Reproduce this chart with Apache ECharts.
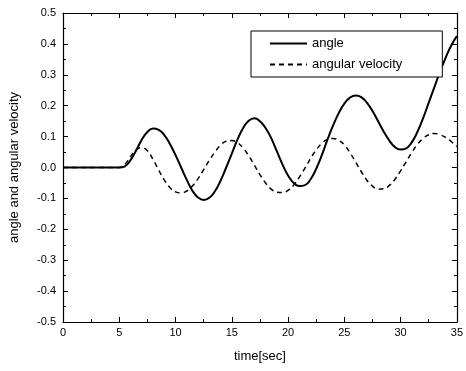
<!DOCTYPE html>
<html>
<head>
<meta charset="utf-8">
<script src="https://cdn.jsdelivr.net/npm/echarts@6/dist/echarts.min.js"></script>
<style>
  html, body { margin: 0; padding: 0; background: #fff; }
  #chart { width: 466px; height: 371px; }
</style>
</head>
<body>
<div id="chart"></div>
<script>
// time [sec], sampled every 0.5 s
const timeSec = [
  0, 0.5, 1, 1.5, 2, 2.5, 3, 3.5, 4, 4.5, 5, 5.5, 6, 6.5, 7, 7.5, 8, 8.5, 9, 9.5,
  10, 10.5, 11, 11.5, 12, 12.5, 13, 13.5, 14, 14.5, 15, 15.5, 16, 16.5, 17, 17.5,
  18, 18.5, 19, 19.5, 20, 20.5, 21, 21.5, 22, 22.5, 23, 23.5, 24, 24.5, 25, 25.5,
  26, 26.5, 27, 27.5, 28, 28.5, 29, 29.5, 30, 30.5, 31, 31.5, 32, 32.5, 33, 33.5,
  34, 34.5, 35
];
const angle = [
  0, 0, 0, 0, 0, 0, 0, 0, 0, 0, 0, 0.004, 0.024, 0.055, 0.09, 0.115, 0.126, 0.122, 0.105, 0.076,
  0.04, 0.0, -0.04, -0.075, -0.097, -0.105, -0.098, -0.077, -0.043, 0.0, 0.045, 0.09, 0.127, 0.151, 0.159, 0.15,
  0.128, 0.095, 0.053, 0.01, -0.026, -0.05, -0.06, -0.057, -0.038, -0.004, 0.04, 0.09, 0.136, 0.176, 0.207, 0.226,
  0.233, 0.228, 0.21, 0.183, 0.15, 0.116, 0.087, 0.066, 0.058, 0.062, 0.082, 0.116, 0.16, 0.21, 0.26, 0.31,
  0.355, 0.395, 0.425
];
const angularVelocity = [
  0, 0, 0, 0, 0, 0, 0, 0, 0, 0, 0, 0.01, 0.035, 0.057, 0.064, 0.054, 0.026, -0.008, -0.04, -0.065,
  -0.079, -0.082, -0.076, -0.06, -0.036, -0.007, 0.023, 0.05, 0.072, 0.085, 0.087, 0.08, 0.063, 0.038, 0.008, -0.023,
  -0.05, -0.07, -0.08, -0.081, -0.074, -0.057, -0.031, -0.002, 0.029, 0.057, 0.078, 0.091, 0.094, 0.088, 0.073, 0.048,
  0.018, -0.013, -0.041, -0.06, -0.07, -0.069, -0.058, -0.038, -0.011, 0.019, 0.049, 0.075, 0.094, 0.106, 0.11, 0.106,
  0.097, 0.084, 0.068
];
const seriesNames = ['angle', 'angular velocity'];

const font = 'Liberation Sans, Arial, sans-serif';
const chart = echarts.init(document.getElementById('chart'));

const tickCommon = {
  axisLine: { show: true, onZero: false, lineStyle: { color: '#000', width: 1.2 } },
  axisTick: { show: true, inside: true, length: 5, lineStyle: { color: '#000' } },
  minorTick: { show: true, splitNumber: 2, length: 3, lineStyle: { color: '#000' } },
  splitLine: { show: false }
};

chart.setOption({
  animation: false,
  backgroundColor: '#fff',
  grid: { left: 60, right: 4, top: 13, bottom: 49, show: false },
  legend: {
    orient: 'vertical',
    left: 251,
    top: 31,
    padding: [6, 40, 6, 18],
    itemGap: 8,
    itemWidth: 37,
    itemHeight: 10,
    borderColor: '#000',
    borderWidth: 1,
    backgroundColor: '#fff',
    itemStyle: { opacity: 0 },
    textStyle: { fontFamily: font, fontSize: 13, color: '#000' },
    data: seriesNames
  },
  xAxis: [
    Object.assign({
      type: 'value', min: 0, max: 35, interval: 5,
      name: 'time[sec]', nameLocation: 'middle', nameGap: 28,
      nameTextStyle: { fontFamily: font, fontSize: 13, color: '#000' },
      axisLabel: { fontFamily: font, fontSize: 11, color: '#000', margin: 5 }
    }, tickCommon),
    Object.assign({
      type: 'value', min: 0, max: 35, interval: 5, position: 'top',
      axisLabel: { show: false }
    }, tickCommon)
  ],
  yAxis: [
    Object.assign({
      type: 'value', min: -0.5, max: 0.5, interval: 0.1,
      name: 'angle and angular velocity', nameLocation: 'middle', nameGap: 42,
      nameTextStyle: { fontFamily: font, fontSize: 13, color: '#000' },
      axisLabel: {
        fontFamily: font, fontSize: 11, color: '#000', margin: 7,
        formatter: v => v.toFixed(1)
      }
    }, tickCommon),
    Object.assign({
      type: 'value', min: -0.5, max: 0.5, interval: 0.1, position: 'right',
      axisLabel: { show: false }
    }, tickCommon)
  ],
  series: [
    {
      name: seriesNames[0],
      type: 'line',
      smooth: true,
      symbol: 'none',
      data: timeSec.map((t, i) => [t, angle[i]]),
      lineStyle: { color: '#000', width: 2 },
      itemStyle: { color: '#000' },
      z: 3
    },
    {
      name: seriesNames[1],
      type: 'line',
      smooth: true,
      symbol: 'none',
      data: timeSec.map((t, i) => [t, angularVelocity[i]]),
      lineStyle: { color: '#000', width: 1.5, type: [5, 4] },
      itemStyle: { color: '#000' },
      z: 2
    }
  ]
});
</script>
</body>
</html>
